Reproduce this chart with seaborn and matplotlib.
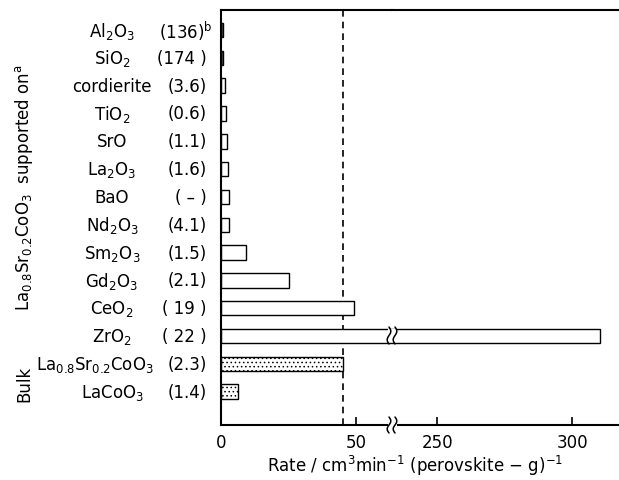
import matplotlib
matplotlib.use("Agg")
import matplotlib.pyplot as plt
import numpy as np
import pandas as pd
import seaborn as sns
from matplotlib.lines import Line2D
from matplotlib.patches import Rectangle
from matplotlib.transforms import blended_transform_factory


# Catalysts: La0.8Sr0.2CoO3 on various supports, then bulk perovskites
SUPPORTS = [
    "Al$_2$O$_3$", "SiO$_2$", "cordierite", "TiO$_2$", "SrO", "La$_2$O$_3$",
    "BaO", "Nd$_2$O$_3$", "Sm$_2$O$_3$", "Gd$_2$O$_3$", "CeO$_2$", "ZrO$_2$",
    "La$_{0.8}$Sr$_{0.2}$CoO$_3$", "LaCoO$_3$",
]
# surface area (m2/g) shown in brackets
SURFACE_AREA = [
    "(136)$^{\\mathrm{b}}$", "(174 )", "(3.6)", "(0.6)", "(1.1)", "(1.6)",
    "( \u2013 )", "(4.1)", "(1.5)", "(2.1)", "( 19 )", "( 22 )", "(2.3)", "(1.4)",
]
RATES = [0.8, 0.8, 1.5, 1.8, 2.2, 2.6, 3.0, 3.1, 9.3, 25.2, 49.3, 310.4, 45.2, 6.3]
KIND = ["dense", "dense"] + ["supported"] * 10 + ["bulk", "bulk"]

LEFT_TICKS = [0, 50]
RIGHT_TICKS = [250, 300]

W, H = 619, 481


def fx(px):
    return px / W


def fy(py):
    return 1 - py / H


sns.set_style("ticks")
plt.rcParams["font.family"] = ["DejaVu Sans"]
plt.rcParams["mathtext.fontset"] = "dejavusans"
plt.rcParams["hatch.linewidth"] = 0.6
for key in ("text.color", "axes.labelcolor", "axes.edgecolor",
            "xtick.color", "ytick.color"):
    plt.rcParams[key] = "black"

df = pd.DataFrame({"support": SUPPORTS, "rate": RATES, "kind": KIND})

fig = plt.figure(figsize=(W / 100, H / 100), dpi=100)
ax_l = fig.add_axes([fx(221), fy(426), fx(392) - fx(221), fy(11) - fy(426)])
ax_r = fig.add_axes([fx(392), fy(426), fx(619) - fx(392), fy(11) - fy(426)])

for ax in (ax_l, ax_r):
    sns.barplot(data=df, x="rate", y="support", order=SUPPORTS, orient="h",
                color="white", saturation=1, edgecolor="black", linewidth=1.0,
                width=0.52, ax=ax)
    for patch, kind in zip(ax.patches, KIND):
        if kind == "dense":
            patch.set_facecolor("0.35")
        elif kind == "bulk":
            patch.set_hatch("....")
    ax.set_ylim(14.2, -0.72)
    ax.set_xlabel("")
    ax.set_ylabel("")
    ax.tick_params(axis="y", left=False, labelleft=False)
    ax.tick_params(axis="x", direction="in", length=6, width=1.2,
                   labelsize=12, pad=6)
    for s in ax.spines.values():
        s.set_linewidth(1.5)

ax_l.set_xlim(0, 63.3)
ax_r.set_xlim(233.3, 317.4)
ax_l.set_xticks(LEFT_TICKS)
ax_r.set_xticks(RIGHT_TICKS)
ax_l.spines["right"].set_visible(False)
ax_r.spines["left"].set_visible(False)
ax_r.spines["right"].set_visible(False)

# dashed reference line at the bulk La0.8Sr0.2CoO3 rate
ax_l.axvline(RATES[12], color="black", lw=1.2, ls=(0, (4, 3)), zorder=0)

# row labels: support name and surface area in brackets
tr = blended_transform_factory(fig.transFigure, ax_l.transData)
for i, (name, area) in enumerate(zip(SUPPORTS, SURFACE_AREA)):
    if i == 12:
        ax_l.text(fx(154), i, name, ha="right", va="center", fontsize=12,
                  transform=tr)
    else:
        ax_l.text(fx(112), i, name, ha="center", va="center", fontsize=12,
                  transform=tr)
    xr = fx(213) if i == 0 else fx(207)
    ax_l.text(xr, i, area, ha="right", va="center", fontsize=12, transform=tr)

fig.text(fx(24), fy(188), "La$_{0.8}$Sr$_{0.2}$CoO$_3$  supported on$^{\\mathrm{a}}$",
         rotation=90, ha="center", va="center", fontsize=12)
fig.text(fx(24), fy(384), "Bulk", rotation=90, ha="center", va="center",
         fontsize=12)
fig.text(fx(415), fy(466),
         "Rate / cm$^3$min$^{-1}$ (perovskite \u2212 g)$^{-1}$",
         ha="center", va="center", fontsize=12)

# axis break marks on the ZrO2 bar and on the x axis
for y0, y1 in [(328, 345), (418, 434)]:
    fig.add_artist(Rectangle((fx(388), fy(y1 - 2)), fx(397) - fx(388),
                             fy(y0 + 2) - fy(y1 - 2), transform=fig.transFigure,
                             facecolor="white", edgecolor="none", zorder=10))
    t = np.linspace(0, 1, 30)
    for xc in (389, 395):
        xs = xc + 1.8 * np.sin(2 * np.pi * t)
        ys = y0 + (y1 - y0) * t
        fig.add_artist(Line2D(fx(xs), fy(ys), transform=fig.transFigure,
                              color="black", lw=1.1, zorder=11))

fig.savefig("out.png", dpi=100)
